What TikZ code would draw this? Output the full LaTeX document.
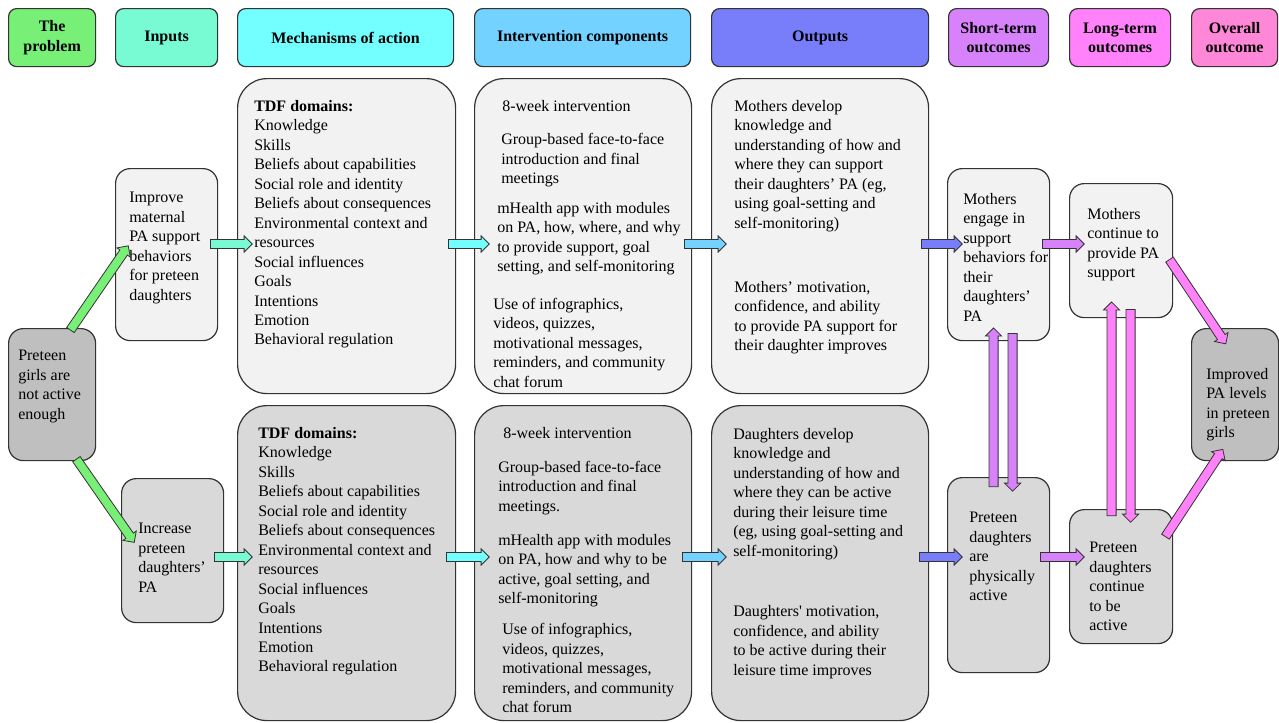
\documentclass[tikz,border=0pt]{standalone}
\usepackage{fontspec}
\setmainfont{Liberation Serif}
\usepackage{tikz}
\usetikzlibrary{calc,shapes.arrows}

\definecolor{cproblem}{RGB}{120,240,120}
\definecolor{cinput}{RGB}{120,250,210}
\definecolor{cmech}{RGB}{115,255,255}
\definecolor{cinterv}{RGB}{115,210,255}
\definecolor{coutput}{RGB}{120,125,250}
\definecolor{cshort}{RGB}{215,130,250}
\definecolor{clong}{RGB}{255,130,250}
\definecolor{coverall}{RGB}{255,135,215}
\definecolor{clight}{RGB}{242,242,242}
\definecolor{cmid}{RGB}{217,217,217}
\definecolor{cdark}{RGB}{191,191,191}

\tikzset{
  sz/.style 2 args={minimum width=#1*0.75pt, minimum height=#2*0.75pt},
  hdr/.style={draw=black!80, line width=0.9pt, rounded corners=6pt, anchor=north west,
    inner sep=0pt, align=center, font=\fontsize{12}{14.6}\selectfont\bfseries},
  card/.style={draw=black!80, line width=0.9pt, anchor=north west, inner sep=0pt},
  txt/.style={anchor=north west, inner sep=0pt, align=left, font=\fontsize{12}{14.6}\selectfont},
  blk/.style={single arrow, draw=black!80, line width=0.6pt, inner sep=3.1pt,
    single arrow head extend=2.7pt, single arrow tip angle=90}
}

% block arrow from #1 to #2, filled with #3
\newcommand{\blockarrow}[3]{%
  \path let \p1=($#2-#1$), \n1={veclen(\x1,\y1)} in
    #1 -- #2 node[blk, fill=#3, minimum height=\n1, sloped, allow upside down, midway] {};}

\begin{document}
\begin{tikzpicture}[x=0.75pt, y=-0.75pt]
  \path[fill=white, use as bounding box] (0,0) rectangle (1279,722);

  % column headers
  \node[hdr, fill=cproblem, sz={87}{58}] (hProb) at (8,8) {The\\problem};
  \node[hdr, fill=cinput, sz={102}{58}] (hIn) at (115,8) {Inputs};
  \node[hdr, fill=cmech, sz={216}{58}] (hMech) at (237,8) {Mechanisms of action};
  \node[hdr, fill=cinterv, sz={216}{58}] (hInt) at (474,8) {Intervention components};
  \node[hdr, fill=coutput, sz={217}{58}] (hOut) at (711,8) {Outputs};
  \node[hdr, fill=cshort, sz={100}{58}] (hShort) at (948,8) {Short-term\\outcomes};
  \node[hdr, fill=clong, sz={101}{58}] (hLong) at (1069,8) {Long-term\\outcomes};
  \node[hdr, fill=coverall, sz={86}{58}] (hOver) at (1191,8) {Overall\\outcome};

  % problem and inputs
  \node[card, fill=cdark, rounded corners=11pt, sz={87}{132}] (prob) at (8,328) {};
  \node[txt] (probTxt) at ($(prob.north west)+(10,22)$) {Preteen\\girls are\\not active\\enough};
  \node[card, fill=clight, rounded corners=11pt, sz={102}{172}] (inT) at (115,168) {};
  \node[txt] (inTTxt) at ($(inT.north west)+(14,24)$) {Improve\\maternal\\PA support\\behaviors\\for preteen\\daughters};
  \node[card, fill=cmid, rounded corners=11pt, sz={102}{144}] (inB) at (121,478) {};
  \node[txt] (inBTxt) at ($(inB.north west)+(17,45)$) {Increase\\preteen\\daughters’\\PA};

  % mechanisms of action
  \node[card, fill=clight, rounded corners=22pt, sz={218}{315}] (mechT) at (237,78) {};
  \node[txt] (mechTTxt) at ($(mechT.north west)+(17,22)$) {\textbf{TDF domains:}\\Knowledge\\Skills\\Beliefs about capabilities\\Social role and identity\\Beliefs about consequences\\Environmental context and\\resources\\Social influences\\Goals\\Intentions\\Emotion\\Behavioral regulation};
  \node[card, fill=cmid, rounded corners=22pt, sz={218}{315}] (mechB) at (237,405) {};
  \node[txt] (mechBTxt) at ($(mechB.north west)+(21,22)$) {\textbf{TDF domains:}\\Knowledge\\Skills\\Beliefs about capabilities\\Social role and identity\\Beliefs about consequences\\Environmental context and\\resources\\Social influences\\Goals\\Intentions\\Emotion\\Behavioral regulation};

  % intervention components
  \node[card, fill=clight, rounded corners=22pt, sz={217}{315}] (intT) at (474,78) {};
  \node[txt] (intTTxt) at ($(intT.north west)+(19,22)$) {%
    \hspace*{6.75pt}8-week intervention\\[10.6pt]
    \hspace*{6pt}Group-based face-to-face\\
    \hspace*{6pt}introduction and final\\
    \hspace*{6pt}meetings\\[7.5pt]
    \hspace*{3pt}mHealth app with modules\\
    \hspace*{3pt}on PA, how, where, and why\\
    \hspace*{3pt}to provide support, goal\\
    \hspace*{3pt}setting, and self-monitoring\\[13.5pt]
    Use of infographics,\\
    videos, quizzes,\\
    motivational messages,\\
    reminders, and community\\
    chat forum};
  \node[card, fill=cmid, rounded corners=22pt, sz={217}{315}] (intB) at (474,405) {};
  \node[txt] (intBTxt) at ($(intB.north west)+(24,22)$) {%
    \hspace*{3.75pt}8-week intervention\\[11pt]
    Group-based face-to-face\\
    introduction and final\\
    meetings.\\[10.8pt]
    mHealth app with modules\\
    on PA, how and why to be\\
    active, goal setting, and\\
    self-monitoring\\[8.8pt]
    \hspace*{3pt}Use of infographics,\\
    \hspace*{3pt}videos, quizzes,\\
    \hspace*{3pt}motivational messages,\\
    \hspace*{3pt}reminders, and community\\
    \hspace*{3pt}chat forum};

  % outputs
  \node[card, fill=clight, rounded corners=22pt, sz={217}{315}] (outT) at (711,78) {};
  \node[txt] (outTTxt) at ($(outT.north west)+(23,22)$) {%
    Mothers develop\\
    knowledge and\\
    understanding of how and\\
    where they can support\\
    their daughters’ PA (eg,\\
    using goal-setting and\\
    self-monitoring)\\[33.5pt]
    Mothers’ motivation,\\
    confidence, and ability\\
    to provide PA support for\\
    their daughter improves};
  \node[card, fill=cmid, rounded corners=22pt, sz={217}{315}] (outB) at (711,405) {};
  \node[txt] (outBTxt) at ($(outB.north west)+(22,23)$) {%
    Daughters develop\\
    knowledge and\\
    understanding of how and\\
    where they can be active\\
    during their leisure time\\
    (eg, using goal-setting and\\
    self-monitoring)\\[31pt]
    Daughters\textquotesingle{} motivation,\\
    confidence, and ability\\
    to be active during their\\
    leisure time improves};

  % short-term, long-term and overall outcomes
  \node[card, fill=clight, rounded corners=11pt, sz={102}{172}] (shT) at (947,168) {};
  \node[txt] (shTTxt) at ($(shT.north west)+(16,25)$) {Mothers\\engage in\\support\\behaviors for\\their\\daughters’\\PA};
  \node[card, fill=cmid, rounded corners=11pt, sz={102}{195}] (shB) at (947,477) {};
  \node[txt] (shBTxt) at ($(shB.north west)+(22,35)$) {Preteen\\daughters\\are\\physically\\active};
  \node[card, fill=clight, rounded corners=11pt, sz={103}{134}] (lgT) at (1069,183) {};
  \node[txt] (lgTTxt) at ($(lgT.north west)+(18,25)$) {Mothers\\continue to\\provide PA\\support};
  \node[card, fill=cmid, rounded corners=11pt, sz={103}{134}] (lgB) at (1069,509) {};
  \node[txt] (lgBTxt) at ($(lgB.north west)+(20,33)$) {Preteen\\daughters\\continue\\to be\\active};
  \node[card, fill=cdark, rounded corners=11pt, sz={87}{132}] (over) at (1191,328) {};
  \node[txt] (overTxt) at ($(over.north west)+(15,40)$) {Improved\\PA levels\\in preteen\\girls};

  % arrows
  \coordinate (rowT) at (0,244);
  \coordinate (rowB) at (0,557);
  \coordinate (g1s) at ($(prob.north)+(17,4)$);
  \coordinate (g1e) at ($(inT.west)+(12,-7)$);
  \coordinate (g2s) at ($(prob.south)+(23,-4)$);
  \coordinate (g2e) at ($(inB.west)+(12,-10)$);
  \blockarrow{(g1s)}{(g1e)}{cproblem}
  \blockarrow{(g2s)}{(g2e)}{cproblem}
  \foreach \l/\r/\c in {inT/mechT/cinput, mechT/intT/cmech, intT/outT/cinterv, outT/shT/coutput, shT/lgT/cshort}{
    \coordinate (hs) at ($(\l.east|-rowT)+(-10,0)$);
    \coordinate (he) at ($(\r.west|-rowT)+(13,0)$);
    \blockarrow{(hs)}{(he)}{\c}
  }
  \foreach \l/\r/\c in {inB/mechB/cinput, mechB/intB/cmech, intB/outB/cinterv, outB/shB/coutput, shB/lgB/cshort}{
    \coordinate (hs) at ($(\l.east|-rowB)+(-12,0)$);
    \coordinate (he) at ($(\r.west|-rowB)+(13,0)$);
    \blockarrow{(hs)}{(he)}{\c}
  }
  \coordinate (v1s) at ($(shB.north)+(-5,12)$);
  \coordinate (v1e) at ($(shT.south)+(-5,-11)$);
  \coordinate (v2s) at ($(shT.south)+(14,-10)$);
  \coordinate (v2e) at ($(shB.north)+(14,12)$);
  \coordinate (v3s) at ($(lgB.north)+(-9.5,9)$);
  \coordinate (v3e) at ($(lgT.south)+(-9.5,-14)$);
  \coordinate (v4s) at ($(lgT.south)+(9.5,-11)$);
  \coordinate (v4e) at ($(lgB.north)+(9.5,11)$);
  \blockarrow{(v1s)}{(v1e)}{cshort}
  \blockarrow{(v2s)}{(v2e)}{cshort}
  \blockarrow{(v3s)}{(v3e)}{clong}
  \blockarrow{(v4s)}{(v4e)}{clong}
  \coordinate (d1s) at ($(lgT.east)+(-5,7)$);
  \coordinate (d1e) at ($(over.north)+(-10.5,14)$);
  \coordinate (d2s) at ($(lgB.east)+(-9,-38)$);
  \coordinate (d2e) at ($(over.south)+(-13.5,-10)$);
  \blockarrow{(d1s)}{(d1e)}{clong}
  \blockarrow{(d2s)}{(d2e)}{clong}
\end{tikzpicture}
\end{document}
